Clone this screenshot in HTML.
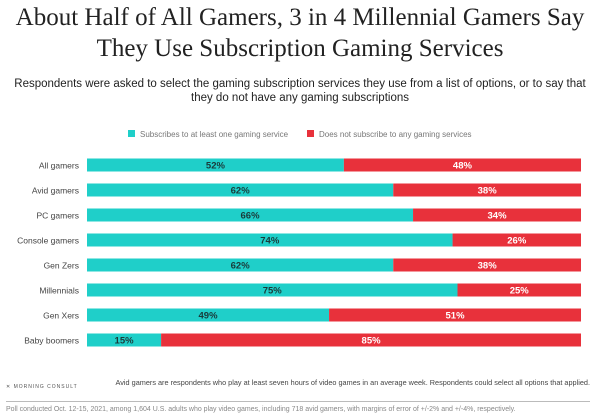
<!DOCTYPE html>
<html><head><meta charset="utf-8"><style>
body{margin:0;width:600px;height:416px;background:#fff;font-family:"Liberation Sans",sans-serif;overflow:hidden;position:relative}
.t{position:absolute;left:0;width:600px;text-align:center}
</style></head><body>
<div class="t" style="top:2px;font-family:'Liberation Serif',serif;font-size:25px;line-height:31px;color:#222">About Half of All Gamers, 3 in 4 Millennial Gamers Say<br>They Use Subscription Gaming Services</div>
<div class="t" style="top:77px;font-size:11.5px;line-height:14px;color:#222">Respondents were asked to select the gaming subscription services they use from a list of options, or to say that<br>they do not have any gaming subscriptions</div>
<svg id="c" width="600" height="416" style="position:absolute;left:0;top:0"></svg>
<script>
const categories=["All gamers","Avid gamers","PC gamers","Console gamers","Gen Zers","Millennials","Gen Xers","Baby boomers"];
const subscribes=[52,62,66,74,62,75,49,15];
const notSubscribe=[48,38,34,26,38,25,51,85];
const legendLabels=["Subscribes to at least one gaming service","Does not subscribe to any gaming services"];
const NS="http://www.w3.org/2000/svg";
const svg=document.getElementById('c');
const x0=87,x1=581;
const xs=v=>x0+(x1-x0)*v/100;
const yc=i=>165+i*25;
function mk(t,a,txt){const e=document.createElementNS(NS,t);for(const k in a)e.setAttribute(k,a[k]);if(txt!=null)e.textContent=txt;svg.appendChild(e);return e;}
const colors=["#1fcfc9","#e8313b"];
[[128,0],[307,1]].forEach(([lx,k])=>{
 const r=mk('rect',{x:lx,y:130,width:7,height:7,fill:colors[k]});
 
 
 const t=mk('text',{x:lx+12,y:137,'font-size':8,fill:'#777'},legendLabels[k]);
 
 
});
categories.forEach((c,i)=>{
 const y=yc(i);
 const l=mk('text',{x:79,y:y+3.5,'font-size':8.5,fill:'#444','text-anchor':'end'},c);
 
 
 const a=xs(0),b=xs(subscribes[i]),d=xs(subscribes[i]+notSubscribe[i]);
 const r1=mk('rect',{x:a,y:y-6.5,width:b-a,height:13,fill:colors[0]});
 
 
 const r2=mk('rect',{x:b,y:y-6.5,width:d-b,height:13,fill:colors[1]});
 
 
 const v1=mk('text',{x:(a+b)/2,y:y+3.5,'font-size':9.5,'font-weight':'bold',fill:'#1a3a3a','text-anchor':'middle'},subscribes[i]+'%');
 
 
 const v2=mk('text',{x:(b+d)/2,y:y+3.5,'font-size':9.5,'font-weight':'bold',fill:'#fff','text-anchor':'middle'},notSubscribe[i]+'%');
 
 
});
</script>
<div style="position:absolute;left:6px;top:384px;font-size:5px;letter-spacing:1px;color:#555">✕ MORNING CONSULT</div>
<div style="position:absolute;right:10px;top:378px;font-size:7.3px;color:#444">Avid gamers are respondents who play at least seven hours of video games in an average week. Respondents could select all options that applied.</div>
<div style="position:absolute;left:6px;width:584px;top:401px;height:1px;background:#bbb"></div>
<div style="position:absolute;left:6px;top:406px;font-size:7px;color:#888">Poll conducted Oct. 12-15, 2021, among 1,604 U.S. adults who play video games, including 718 avid gamers, with margins of error of +/-2% and +/-4%, respectively.</div>
</body></html>
